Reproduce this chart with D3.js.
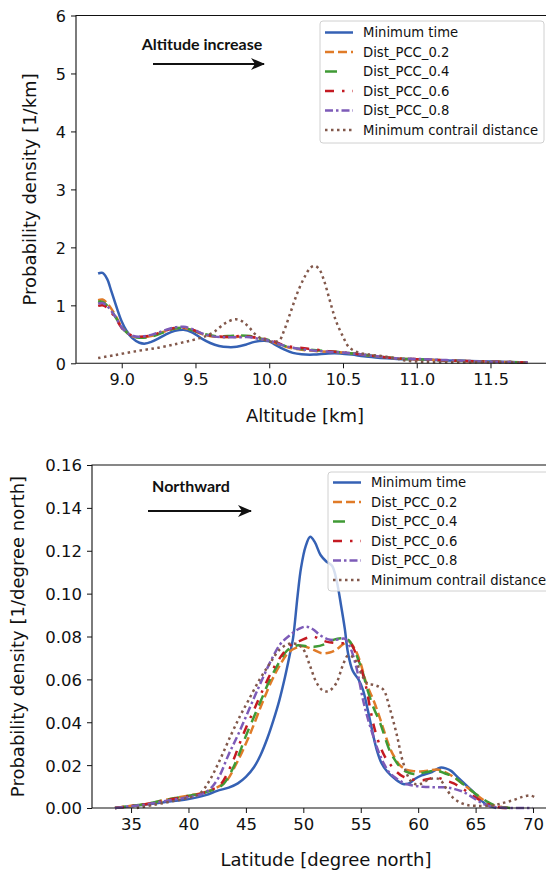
<!doctype html>
<html lang="en">
<head>
<meta charset="utf-8">
<title>Probability density</title>
<script src="https://d3js.org/d3.v7.min.js"></script>
<style>
  body { margin: 0; background: #fff; }
  svg { display: block; font-family: "DejaVu Sans", sans-serif; }
  .tick text { fill: #111; }
  .tick line { stroke: #111; }
  .spine { stroke: #111; stroke-width: 1.1; fill: none; }
  .note { font-family: Lato, "Open Sans", sans-serif; font-weight: bold; font-size: 16px; fill: #111; }
  .legend-box { fill: #fff; fill-opacity: 0.8; stroke: #d0d0d0; stroke-width: 1; }
  .legend text { font-size: 13.2px; fill: #111; }
  .axis-label { font-size: 18px; fill: #111; }
</style>
</head>
<body>
<svg width="546" height="872"></svg>
<script>
// ---- data ----
var seriesNames = ["Minimum time", "Dist_PCC_0.2", "Dist_PCC_0.4", "Dist_PCC_0.6", "Dist_PCC_0.8", "Minimum contrail distance"];

var altTicks = [9.0, 9.5, 10.0, 10.5, 11.0, 11.5];
var altDensityTicks = [0, 1, 2, 3, 4, 5, 6];
var latTicks = [35, 40, 45, 50, 55, 60, 65, 70];
var latDensityTicks = [0, 0.02, 0.04, 0.06, 0.08, 0.10, 0.12, 0.14, 0.16];

// altitude [km], density [1/km]
var altMinTime = [[8.84,1.55],[8.87,1.56],[8.9,1.46],[8.93,1.24],[8.97,0.93],[9.0,0.72],[9.03,0.57],[9.07,0.44],[9.12,0.355],[9.16,0.34],[9.2,0.37],[9.25,0.43],[9.3,0.5],[9.36,0.56],[9.42,0.58],[9.48,0.53],[9.54,0.43],[9.6,0.35],[9.66,0.3],[9.72,0.28],[9.78,0.285],[9.84,0.32],[9.9,0.37],[9.96,0.39],[10.0,0.38],[10.04,0.32],[10.1,0.24],[10.16,0.18],[10.22,0.155],[10.3,0.15],[10.4,0.17],[10.48,0.17],[10.56,0.15],[10.64,0.12],[10.72,0.1],[10.8,0.085],[10.9,0.07],[11.0,0.07],[11.1,0.06],[11.2,0.05],[11.35,0.04],[11.5,0.03],[11.65,0.02],[11.75,0.015]];
var altPcc02 = [[8.84,1.09],[8.87,1.1],[8.9,1.04],[8.95,0.86],[9.0,0.63],[9.04,0.52],[9.08,0.46],[9.12,0.45],[9.2,0.47],[9.28,0.54],[9.36,0.6],[9.42,0.61],[9.48,0.57],[9.55,0.5],[9.63,0.46],[9.72,0.45],[9.8,0.46],[9.87,0.46],[9.93,0.43],[10.0,0.39],[10.06,0.33],[10.12,0.28],[10.2,0.24],[10.3,0.215],[10.4,0.2],[10.5,0.185],[10.6,0.16],[10.7,0.13],[10.8,0.1],[10.9,0.08],[11.0,0.07],[11.1,0.06],[11.25,0.045],[11.4,0.035],[11.55,0.025],[11.75,0.015]];
var altPcc04 = [[8.84,1.06],[8.87,1.06],[8.9,1.0],[8.95,0.83],[9.0,0.62],[9.04,0.52],[9.08,0.46],[9.12,0.44],[9.2,0.46],[9.28,0.53],[9.36,0.6],[9.42,0.61],[9.48,0.57],[9.55,0.51],[9.63,0.47],[9.72,0.47],[9.8,0.48],[9.87,0.47],[9.93,0.43],[10.0,0.4],[10.06,0.34],[10.12,0.29],[10.2,0.25],[10.3,0.23],[10.4,0.21],[10.5,0.185],[10.6,0.16],[10.7,0.13],[10.8,0.1],[10.9,0.08],[11.0,0.07],[11.1,0.06],[11.25,0.045],[11.4,0.035],[11.55,0.025],[11.75,0.015]];
var altPcc06 = [[8.84,0.99],[8.87,1.0],[8.9,0.96],[8.95,0.81],[9.0,0.61],[9.04,0.52],[9.08,0.47],[9.12,0.46],[9.2,0.48],[9.28,0.55],[9.36,0.61],[9.42,0.62],[9.48,0.58],[9.55,0.51],[9.63,0.47],[9.72,0.46],[9.8,0.47],[9.87,0.46],[9.93,0.43],[10.0,0.41],[10.06,0.35],[10.12,0.3],[10.2,0.27],[10.3,0.24],[10.4,0.21],[10.5,0.19],[10.6,0.16],[10.7,0.13],[10.8,0.1],[10.9,0.08],[11.0,0.07],[11.1,0.06],[11.25,0.045],[11.4,0.035],[11.55,0.025],[11.75,0.015]];
var altPcc08 = [[8.84,1.03],[8.87,1.04],[8.9,0.99],[8.95,0.83],[9.0,0.62],[9.04,0.52],[9.08,0.47],[9.12,0.46],[9.2,0.49],[9.28,0.56],[9.36,0.62],[9.42,0.63],[9.48,0.59],[9.55,0.51],[9.63,0.46],[9.72,0.45],[9.8,0.45],[9.87,0.45],[9.93,0.42],[10.0,0.39],[10.06,0.34],[10.12,0.29],[10.2,0.25],[10.3,0.22],[10.4,0.2],[10.5,0.185],[10.6,0.16],[10.7,0.13],[10.8,0.1],[10.9,0.08],[11.0,0.075],[11.1,0.065],[11.25,0.05],[11.4,0.035],[11.55,0.025],[11.75,0.015]];
var altContrail = [[8.84,0.09],[8.95,0.14],[9.1,0.21],[9.25,0.27],[9.38,0.34],[9.48,0.4],[9.56,0.46],[9.63,0.55],[9.7,0.69],[9.77,0.76],[9.82,0.72],[9.86,0.63],[9.91,0.49],[9.97,0.4],[10.03,0.37],[10.07,0.4],[10.1,0.56],[10.15,0.92],[10.19,1.21],[10.24,1.49],[10.28,1.65],[10.31,1.68],[10.34,1.62],[10.37,1.44],[10.41,1.09],[10.45,0.75],[10.5,0.46],[10.54,0.28],[10.6,0.19],[10.68,0.15],[10.76,0.125],[10.85,0.09],[10.92,0.05],[11.0,0.03],[11.1,0.02],[11.3,0.02],[11.5,0.02],[11.75,0.015]];

// latitude [deg N], density [1/degree north]
var latMinTime = [[33.6,0],[35,0.0008],[36.5,0.0017],[38,0.0028],[40,0.0042],[41.5,0.006],[42.5,0.008],[43.5,0.0095],[44.3,0.0115],[45,0.0145],[45.7,0.019],[46.3,0.025],[46.9,0.033],[47.4,0.041],[47.9,0.05],[48.4,0.061],[48.8,0.071],[49.1,0.079],[49.5,0.099],[49.8,0.112],[50.2,0.122],[50.6,0.1265],[51,0.124],[51.5,0.118],[52,0.115],[52.5,0.113],[52.9,0.106],[53.3,0.094],[53.6,0.084],[53.9,0.072],[54.3,0.064],[54.8,0.06],[55.2,0.055],[55.6,0.046],[56,0.036],[56.4,0.027],[56.8,0.021],[57.3,0.017],[58,0.0135],[58.7,0.0112],[59.2,0.0115],[59.7,0.0135],[60.3,0.0152],[61.2,0.0168],[61.9,0.0188],[62.4,0.0185],[62.9,0.0172],[63.5,0.014],[64.2,0.0105],[64.8,0.0075],[65.4,0.004],[66,0.0014],[66.8,0]];
var latPcc02 = [[33.6,0],[35,0.001],[36.5,0.002],[38,0.0038],[40,0.0058],[41,0.0068],[42,0.0085],[43.2,0.012],[44.2,0.021],[45.32,0.034],[46.5,0.05],[47.3,0.06],[48,0.067],[48.7,0.0725],[49.4,0.0748],[50,0.0755],[50.8,0.074],[51.6,0.0722],[52.3,0.0725],[52.9,0.074],[53.5,0.0765],[54,0.0775],[54.5,0.074],[54.9,0.069],[55.5,0.058],[56.1,0.0504],[56.6,0.043],[57,0.0364],[57.4,0.03],[57.8,0.025],[58.4,0.02],[59,0.0178],[59.6,0.0172],[60.2,0.017],[61,0.0175],[61.6,0.018],[62.2,0.017],[62.8,0.0154],[63.5,0.0128],[64.2,0.0099],[65,0.0065],[65.7,0.0037],[66.4,0.0015],[67.1,0.0006],[68,0]];
var latPcc04 = [[33.6,0],[35,0.001],[36.5,0.0021],[38,0.0038],[40,0.0057],[41,0.0066],[42,0.0082],[43,0.011],[44,0.02],[45.03,0.034],[46.3,0.05],[47.1,0.06],[47.9,0.068],[48.6,0.0735],[49.4,0.0758],[50.3,0.0755],[51.1,0.0753],[51.9,0.0765],[52.6,0.0784],[53.5,0.0792],[54,0.078],[54.3,0.0753],[54.8,0.069],[55.2,0.0628],[55.5,0.0566],[56.1,0.047],[56.7,0.0395],[57.1,0.033],[57.5,0.027],[57.9,0.023],[58.4,0.0193],[59,0.0168],[59.6,0.0159],[60.5,0.0165],[61.6,0.0174],[62.4,0.016],[63.1,0.0146],[63.7,0.012],[64.2,0.0099],[65.1,0.0062],[66,0.003],[66.7,0.0012],[67.4,0.0003],[68,0]];
var latPcc06 = [[33.6,0],[35,0.0009],[36.5,0.002],[38,0.0036],[40,0.0055],[41,0.0066],[42,0.0085],[42.8,0.011],[43.8,0.021],[44.74,0.034],[46.05,0.05],[46.9,0.06],[47.6,0.067],[48.3,0.0725],[49,0.0765],[49.7,0.078],[50.4,0.0795],[50.9,0.08],[51.5,0.0785],[52,0.0776],[52.7,0.077],[53.5,0.0768],[54.1,0.0768],[54.5,0.073],[54.8,0.069],[55.4,0.058],[55.8,0.047],[56.2,0.037],[56.7,0.0286],[57.1,0.024],[57.5,0.0208],[58.1,0.017],[58.7,0.0146],[59.5,0.0133],[60.4,0.013],[61,0.0137],[61.6,0.0143],[62.3,0.013],[63.1,0.0115],[63.8,0.0092],[64.5,0.0068],[65.2,0.0042],[66,0.002],[66.7,0.0008],[67.4,0],[68,0]];
var latPcc08 = [[33.6,0],[35,0.0008],[36.5,0.0018],[38,0.0033],[40,0.005],[41,0.0062],[41.8,0.0085],[42.6,0.014],[43.5,0.025],[44.3,0.034],[45.6,0.05],[46.5,0.061],[47.3,0.07],[48,0.0765],[48.8,0.0805],[49.6,0.0835],[50.2,0.0846],[50.8,0.0835],[51.5,0.0805],[52.1,0.0788],[52.6,0.0784],[53.2,0.0788],[53.6,0.079],[54.05,0.0753],[54.6,0.066],[55.2,0.0504],[55.6,0.042],[56.1,0.0333],[56.5,0.027],[57,0.0208],[57.5,0.0165],[58.1,0.0138],[58.7,0.0118],[59.3,0.0107],[60.4,0.0099],[61.5,0.0097],[62.5,0.0096],[63.2,0.0088],[63.9,0.0076],[64.5,0.0058],[65.1,0.0037],[65.7,0.0018],[66.2,0.0009],[67,0.0003],[67.7,0],[70,0]];
var latContrail = [[35.5,0],[37,0.0015],[38.5,0.003],[40,0.0048],[41,0.0068],[41.8,0.0125],[42.7,0.022],[43.7,0.034],[44.5,0.043],[45.2,0.05],[46.2,0.06],[47.1,0.0675],[47.9,0.0737],[48.7,0.0765],[49.4,0.0765],[50,0.074],[50.6,0.066],[51.2,0.058],[51.8,0.0545],[52.3,0.0548],[52.9,0.0585],[53.4,0.066],[53.9,0.0712],[54.4,0.07],[55.1,0.062],[55.6,0.058],[56.1,0.0575],[56.6,0.0565],[57,0.055],[57.5,0.047],[58.1,0.035],[58.7,0.021],[59.3,0.013],[59.8,0.011],[60.2,0.0112],[61,0.0135],[61.7,0.0137],[62.1,0.012],[62.5,0.0085],[63,0.005],[63.5,0.003],[64.2,0.0015],[65,0.001],[66.5,0.0012],[67.5,0.0025],[68.3,0.0037],[69.1,0.0052],[69.75,0.0058],[70.2,0.005]];

// ---- styles ----
var colors = ["#3561b4", "#e07b28", "#3f9a35", "#c41a22", "#7d5bb8", "#82584b"];
var dashes = [null, "9,4", "12,16", "9,8,2.5,8", "8,3,2.5,3", "2.5,3.5"];

var svg = d3.select("svg");

svg.append("defs").append("marker")
    .attr("id", "head")
    .attr("viewBox", "0 0 14 12")
    .attr("refX", 13).attr("refY", 6)
    .attr("markerWidth", 14).attr("markerHeight", 12)
    .attr("markerUnits", "userSpaceOnUse")
    .attr("orient", "auto")
  .append("path")
    .attr("d", "M0,0 L14,6 L0,12 L4,6 Z")
    .attr("fill", "#111");

function drawPanel(p) {
    var x = d3.scaleLinear().domain(p.xDomain).range([p.left, p.right]);
    var y = d3.scaleLinear().domain(p.yDomain).range([p.bottom, p.top]);
    var g = svg.append("g");

    // curves
    var line = d3.line()
        .x(d => x(d[0]))
        .y(d => y(d[1]))
        .curve(d3.curveCatmullRom.alpha(0.5));

    g.selectAll("path.curve")
        .data(p.series)
        .enter().append("path")
        .attr("class", "curve")
        .attr("d", d => line(d))
        .attr("fill", "none")
        .attr("stroke", (d, i) => colors[i])
        .attr("stroke-width", 2.5)
        .attr("stroke-dasharray", (d, i) => i == 2 ? "11,7" : dashes[i]);

    // spines
    g.append("path").attr("class", "spine")
        .attr("d", "M" + p.left + "," + p.bottom + "V" + p.top + "H" + p.right + "V" + p.bottom + "Z");

    var xAxis = g.append("g")
        .attr("transform", "translate(0," + p.bottom + ")")
        .call(d3.axisBottom(x).tickValues(p.xTicks).tickFormat(p.xFormat).tickSize(5).tickPadding(5));
    var yAxis = g.append("g")
        .attr("transform", "translate(" + p.left + ",0)")
        .call(d3.axisLeft(y).tickValues(p.yTicks).tickFormat(p.yFormat).tickSize(5).tickPadding(5));
    [xAxis, yAxis].forEach(a => {
        a.select(".domain").remove();
        a.selectAll("text").style("font-size", p.tickSize + "px").style("font-family", "DejaVu Sans");
    });
    yAxis.selectAll("text").attr("dy", "0.36em");

    g.append("text").attr("class", "axis-label")
        .attr("x", p.xLabelX).attr("y", p.xLabelY)
        .attr("text-anchor", "middle")
        .text(p.xLabel);
    g.append("text").attr("class", "axis-label")
        .attr("transform", "translate(" + p.yLabelX + "," + (p.top + p.bottom) / 2 + ") rotate(-90)")
        .attr("text-anchor", "middle")
        .text(p.yLabel);

    // annotation
    g.append("text").attr("class", "note")
        .attr("x", p.noteX).attr("y", p.noteY)
        .attr("text-anchor", "middle")
        .text(p.note);
    g.append("line")
        .attr("x1", p.arrow[0]).attr("x2", p.arrow[1])
        .attr("y1", p.arrow[2]).attr("y2", p.arrow[2])
        .attr("stroke", "#111").attr("stroke-width", 2)
        .attr("marker-end", "url(#head)");

    // legend
    var lg = g.append("g").attr("class", "legend");
    lg.append("rect").attr("class", "legend-box")
        .attr("x", p.legend.x).attr("y", p.legend.y)
        .attr("width", p.legend.w).attr("height", p.legend.h)
        .attr("rx", 3);
    var rows = lg.selectAll("g.row")
        .data(seriesNames)
        .enter().append("g")
        .attr("transform", (d, i) => "translate(" + p.legend.x + "," + (p.legend.row0 + i * p.legend.step) + ")");
    rows.append("line")
        .attr("x1", 5).attr("x2", 33)
        .attr("stroke", (d, i) => colors[i])
        .attr("stroke-width", 2.5)
        .attr("stroke-dasharray", (d, i) => dashes[i]);
    rows.append("text")
        .attr("x", 43).attr("dy", "0.36em")
        .text(d => d);
}

drawPanel({
    series: [altMinTime, altPcc02, altPcc04, altPcc06, altPcc08, altContrail],
    xDomain: [8.69, 11.9], yDomain: [0, 6],
    left: 76, right: 549.5, top: 15.5, bottom: 363.3,
    xTicks: altTicks, yTicks: altDensityTicks,
    xFormat: d3.format(".1f"), yFormat: d3.format("d"),
    tickSize: 16,
    xLabel: "Altitude [km]", xLabelX: 305, xLabelY: 422,
    yLabel: "Probability density [1/km]", yLabelX: 36,
    note: "Altitude increase", noteX: 202, noteY: 50,
    arrow: [153, 264, 64],
    legend: {x: 320, y: 21, w: 224, h: 122, row0: 32.5, step: 19.5}
});

drawPanel({
    series: [latMinTime, latPcc02, latPcc04, latPcc06, latPcc08, latContrail],
    xDomain: [31.6, 71.8], yDomain: [0, 0.16],
    left: 92, right: 553.7, top: 465, bottom: 808,
    xTicks: latTicks, yTicks: latDensityTicks,
    xFormat: d3.format("d"), yFormat: d3.format(".2f"),
    tickSize: 16.5,
    xLabel: "Latitude [degree north]", xLabelX: 326, xLabelY: 866,
    yLabel: "Probability density [1/degree north]", yLabelX: 24,
    note: "Northward", noteX: 191, noteY: 492,
    arrow: [148, 251, 511],
    legend: {x: 328, y: 472, w: 226, h: 119, row0: 482.5, step: 19.5}
});
</script>
</body>
</html>
